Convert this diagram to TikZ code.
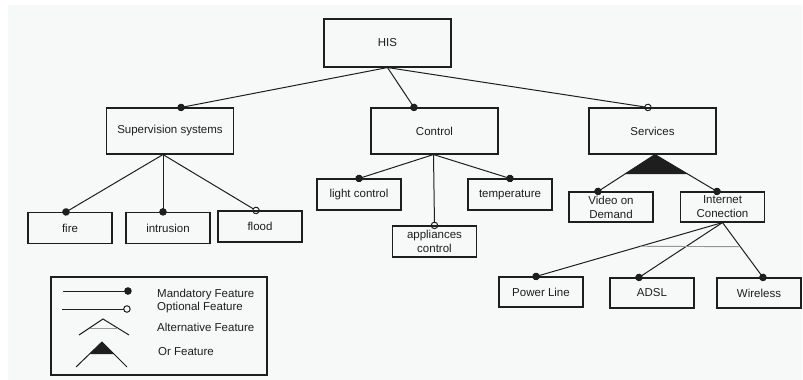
\documentclass[tikz,border=0pt]{standalone}
\usepackage{fontspec}
\setmainfont{Liberation Sans}
\usepackage{tikz}
\usetikzlibrary{positioning}
\usetikzlibrary{calc,arrows.meta}

\definecolor{paper}{RGB}{246,249,247}
\definecolor{ink}{RGB}{30,30,30}
\definecolor{arcgray}{RGB}{150,150,150}

\tikzset{
	feature/.style={draw=ink, line width=1.1pt, minimum width=84pt, minimum height=31pt,
		inner sep=1pt, align=center, text=ink},
	topfeature/.style={feature, minimum width=127pt, minimum height=46pt},
	link/.style={draw=ink, line width=1pt},
	mand/.style={link, -{Circle[length=7.5pt,width=7.5pt]}, shorten >=-3.7pt},
	opt/.style={link, -{Circle[open,length=7.5pt,width=7.5pt]}, shorten >=-3.7pt},
	legendtext/.style={anchor=west, inner sep=0pt, text=ink},
}

\begin{document}
\begin{tikzpicture}[x=1pt, y=-1pt, font=\fontsize{11.5}{14}\selectfont]

	\useasboundingbox (0,0) rectangle (803,380);
	\fill[paper] (8,5) rectangle (802,380);

	% ---------------------
	% Features
	\node[feature, minimum width=127pt, minimum height=48pt] (his) at (387.5,43) {HIS};

	\node[topfeature] (sup) at (170,131)   {Supervision systems};
	\node[topfeature] (ctl) at (434.5,131) {Control};
	\node[topfeature] (srv) at (652.5,131) {Services};

	\node[feature] (fire)  at (70,228)    {fire};
	\node[feature] (intr)  at (168,228)   {intrusion};
	\node[feature] (flood) at (260,226.5) {flood};

	\node[feature] (light) at (359,194.5)   {light control};
	\node[feature] (temp)  at (510,194.5)   {temperature};
	\node[feature] (appl)  at (434.5,241.5) {appliances\\control};

	\node[feature, minimum height=30pt] (vod)  at (611,207)   {Video on\\Demand};
	\node[feature, minimum height=30pt] (inet) at (722.5,207) {Internet\\Conection};

	\node[feature, minimum height=30pt] (pl)   at (541,292) {Power Line};
	\node[feature, minimum height=30pt] (adsl) at (652,293) {ADSL};
	\node[feature, minimum height=30pt] (wire) at (759,293) {Wireless};

	% ---------------------
	% Connector ends
	\coordinate (sup-in)   at ([xshift=11pt]sup.north);
	\coordinate (ctl-in)   at ([xshift=-20.5pt]ctl.north);
	\coordinate (srv-in)   at ([xshift=-4.5pt]srv.north);
	\coordinate (sup-out)  at ([xshift=-7pt]sup.south);
	\coordinate (ctl-out)  at ([xshift=-1pt]ctl.south);
	\coordinate (srv-out)  at ([xshift=2.5pt]srv.south);
	\coordinate (vod-in)   at ([xshift=-13pt]vod.north);
	\coordinate (inet-in)  at ([xshift=-5.5pt]inet.north);
	\coordinate (pl-in)    at ([xshift=-5pt]pl.north);
	\coordinate (adsl-in)  at ([xshift=-13pt]adsl.north);
	\coordinate (wire-in)  at ([xshift=4pt]wire.north);

	% ---------------------
	% Connectors
	\draw[mand] (his.south) -- (sup-in);
	\draw[mand] (his.south) -- (ctl-in);
	\draw[opt]  (his.south) -- (srv-in);

	\draw[mand] (sup-out) -- ([xshift=-4pt]fire.north);
	\draw[mand] (sup-out) -- ([xshift=-5pt]intr.north);
	\draw[opt]  (sup-out) -- ([xshift=-4pt]flood.north);

	\draw[mand] (ctl-out) -- (light.north);
	\draw[mand] (ctl-out) -- (temp.north);
	\draw[opt]  (ctl-out) -- (appl.north);

	% Or group
	\draw[mand] (srv-out) -- (vod-in);
	\draw[mand] (srv-out) -- (inet-in);
	\fill[ink] (srv-out) -- ($(srv-out)!0.53!(vod-in)$) -- ($(srv-out)!0.53!(inet-in)$) -- cycle;

	% Alternative group
	\draw[mand] (inet.south) -- (pl-in);
	\draw[mand] (inet.south) -- (adsl-in);
	\draw[mand] (inet.south) -- (wire-in);
	\draw[arcgray, line width=0.9pt] ($(inet.south)!0.44!(pl-in)$) -- ($(inet.south)!0.44!(wire-in)$);

	% ---------------------
	% Legend
	\draw[ink, line width=1.1pt] (51,277) rectangle (267,375);

	\coordinate (m-a) at (63,291);
	\coordinate (m-b) at (128,291);
	\draw[mand] (m-a) -- (m-b);

	\coordinate (o-a) at (62,309);
	\coordinate (o-b) at (127,309);
	\draw[opt] (o-a) -- (o-b);

	\coordinate (alt-top) at (103,319);
	\coordinate (alt-l)   at (79,335);
	\coordinate (alt-r)   at (129,335);
	\draw[link] (alt-l) -- (alt-top) -- (alt-r);
	\draw[arcgray, line width=0.9pt] ($(alt-top)!0.56!(alt-l)$) -- ($(alt-top)!0.56!(alt-r)$);

	\coordinate (or-top) at (102,342);
	\coordinate (or-l)   at (76,367);
	\coordinate (or-r)   at (127,367);
	\draw[link] (or-l) -- (or-top) -- (or-r);
	\fill[ink] (or-top) -- ($(or-top)!0.48!(or-l)$) -- ($(or-top)!0.48!(or-r)$) -- cycle;

	\node[legendtext] (lg-mand) at (157,295) {Mandatory Feature};
	\node[legendtext] (lg-opt)  at (157,308) {Optional Feature};
	\node[legendtext] (lg-alt)  at (157,327) {Alternative Feature};
	\node[legendtext] (lg-or)   at (158,352) {Or Feature};

\end{tikzpicture}
\end{document}
